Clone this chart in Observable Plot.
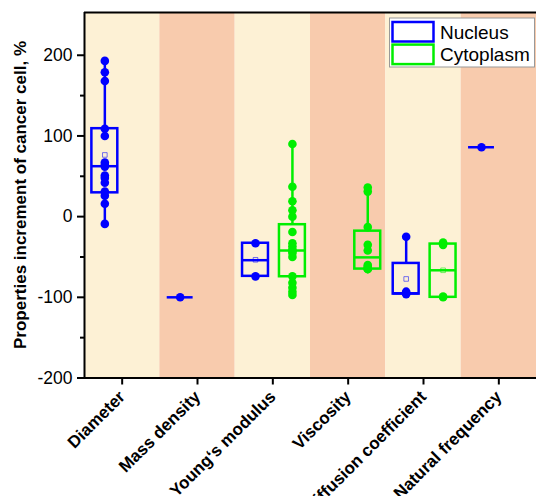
<!DOCTYPE html>
<html><head><meta charset="utf-8">
<script src="https://cdn.jsdelivr.net/npm/d3@7"></script>
<script src="https://cdn.jsdelivr.net/npm/@observablehq/plot@0.6"></script>
<style>
body{margin:0;background:#fff;font-family:"Liberation Sans",Arial,sans-serif}
#chart{position:relative;width:536px;height:496px}
</style>
</head><body><div id="chart"></div>
<script>
// ---------- data ----------
const categories = ["Diameter","Mass density","Young‘s modulus","Viscosity","Diffusion coefficient","Natural frequency"];
const seriesNames = ["Nucleus","Cytoplasm"];
const seriesColors = ["#0000ff","#00ee00"];
const bandColors = ["#fdf1d5","#f8cbad"];
const yTicks = [-200,-100,0,100,200];
const yMinorTicks = [-150,-50,50,150];
const yLabel = "Properties increment of cancer cell, %";

const diameterNucleus   = [193,179,168,109,100,67,64,62,51,48,42,31,26,16,-9];
const massDensityNucleus = [-100];
const youngNucleus      = [-33,-74];
const youngCytoplasm    = [90,37,19,8,0,-19,-33,-37,-41,-43,-45,-50,-74,-82,-88,-93,-97];
const viscosityCytoplasm = [36,31,-13,-35,-42,-60,-62,-64,-65,-65];
const diffusionNucleus  = [-25,-93,-95,-96];
const diffusionCytoplasm = [-32,-35,-99,-100];
const frequencyNucleus  = [86];

// boxes (one per category/series) with quartiles
const boxCategory = ["Diameter","Mass density","Young‘s modulus","Young‘s modulus","Viscosity","Diffusion coefficient","Diffusion coefficient","Natural frequency"];
const boxSeries   = ["Nucleus","Nucleus","Nucleus","Cytoplasm","Cytoplasm","Nucleus","Cytoplasm","Nucleus"];
const boxPoints   = [diameterNucleus,massDensityNucleus,youngNucleus,youngCytoplasm,viscosityCytoplasm,diffusionNucleus,diffusionCytoplasm,frequencyNucleus];
const boxQ1       = [29.5,-100,-74,-74.5,-65,-96,-100,86];
const boxMedian   = [62.5,-100,-54,-42,-50.5,-95,-66.5,86];
const boxQ3       = [109,-100,-33,-10,-18,-58,-34,86];

// ---------- layout ----------
const offset = {Nucleus:-0.23, Cytoplasm:0.26};
const halfW = 0.172;
const yTop = 253, yBottom = -200;

const boxes = boxCategory.map((c,k)=>{
  const x = categories.indexOf(c) + offset[boxSeries[k]];
  return {x, x1:x-halfW, x2:x+halfW, series:boxSeries[k],
    q1:boxQ1[k], median:boxMedian[k], q3:boxQ3[k],
    min:d3.min(boxPoints[k]), max:d3.max(boxPoints[k]), mean:d3.mean(boxPoints[k]), n:boxPoints[k].length};
});
const points = boxes.flatMap((b,k)=>boxPoints[k].map(v=>({x:b.x, y:v, series:b.series})));
const bands = categories.map((c,i)=>({i}));

const plot = Plot.plot({
  width:536, height:496,
  marginLeft:84, marginRight:0, marginTop:12, marginBottom:118.5,
  style:{fontFamily:"'Liberation Sans', Arial, sans-serif", background:"transparent", overflow:"visible"},
  x:{type:"linear", domain:[-0.5,5.5]},
  y:{domain:[yBottom,yTop]},
  color:{domain:seriesNames, range:seriesColors},
  marks:[
    Plot.rect(bands,{x1:d=>d.i-0.5, x2:d=>d.i+0.5, y1:yBottom, y2:yTop, fill:d=>bandColors[d.i%2]}),
    Plot.ruleX(boxes,{x:"x", y1:"q3", y2:"max", stroke:"series", strokeWidth:2.5}),
    Plot.ruleX(boxes,{x:"x", y1:"min", y2:"q1", stroke:"series", strokeWidth:2.5}),
    Plot.rect(boxes.filter(b=>b.q3>b.q1),{x1:"x1", x2:"x2", y1:"q1", y2:"q3", fill:"none", stroke:"series", strokeWidth:2.5}),
    Plot.ruleY(boxes,{y:"median", x1:"x1", x2:"x2", stroke:"series", strokeWidth:2.5}),
    Plot.dot(boxes.filter(b=>b.n>1),{x:"x", y:"mean", symbol:"square", r:2.6, stroke:"series", strokeWidth:0.9, strokeOpacity:0.6, fill:"none"}),
    Plot.dot(points,{x:"x", y:"y", r:4.3, fill:"series", stroke:"none"}),
    Plot.ruleX([-0.5],{stroke:"#000", strokeWidth:2}),
    Plot.ruleY([yBottom,yTop],{stroke:"#000", strokeWidth:2}),
    Plot.axisY(yTicks,{tickSize:7, tickPadding:5, fontSize:17.5, strokeWidth:2, tickFormat:d=>String(d), label:null, fill:"#000"}),
    Plot.axisY(yMinorTicks,{tickSize:4, strokeWidth:2, text:null, label:null}),
    Plot.axisX(d3.range(categories.length),{tickSize:7, tickPadding:9, tickRotate:-45, fontSize:17, fontWeight:"bold", strokeWidth:2, tickFormat:i=>categories[i], label:null, fill:"#000"})
  ]
});
document.getElementById("chart").appendChild(plot);

const svg = d3.select(plot);
// y axis title
svg.append("text")
  .attr("transform","translate(26,195) rotate(-90)")
  .attr("text-anchor","middle")
  .attr("font-size",17).attr("font-weight","bold").attr("fill","#000")
  .text(yLabel);

// legend
const lg = svg.append("g").attr("text-anchor","start");
lg.append("rect").attr("x",389.5).attr("y",18).attr("width",145).attr("height",49)
  .attr("fill","#fff").attr("stroke","#999").attr("stroke-width",1);
seriesNames.forEach((s,i)=>{
  lg.append("rect").attr("x",392.5).attr("y",22+i*22.6).attr("width",41).attr("height",19.5)
    .attr("fill","#fff").attr("stroke",seriesColors[i]).attr("stroke-width",2.5);
  lg.append("text").attr("x",440).attr("y",38.5+i*22.3).attr("font-size",19).attr("fill","#000").attr("text-anchor","start").text(s);
});
</script>
</body></html>
